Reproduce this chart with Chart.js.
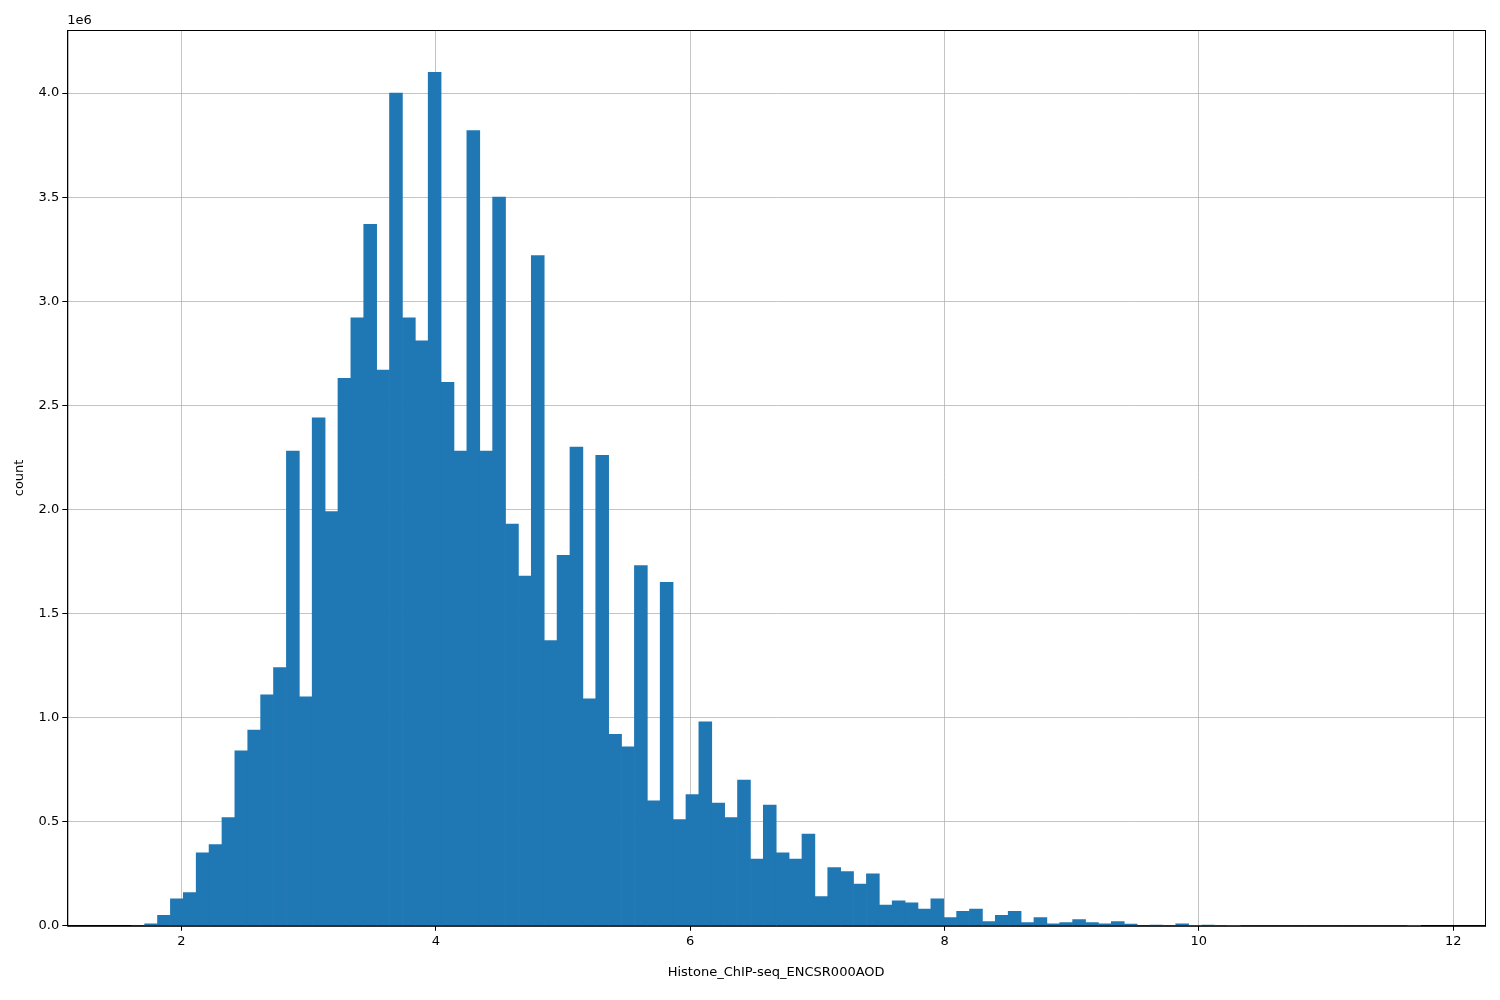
<!DOCTYPE html>
<html><head><meta charset="utf-8">
<script src="https://cdn.jsdelivr.net/npm/chart.js@4"></script>
<style>body{margin:0;background:#fff}</style></head>
<body><canvas id="c" width="1500" height="1000"></canvas>
<script>
const binStart = 1.609;
const binWidth = 0.10135;
const counts = [0,0.01,0.05,0.13,0.16,0.35,0.39,0.52,0.84,0.94,1.11,1.24,2.28,1.10,2.44,1.99,2.63,2.92,3.37,2.67,
4.0,2.92,2.81,4.1,2.61,2.28,3.82,2.28,3.50,1.93,1.68,3.22,1.37,1.78,2.30,1.09,2.26,0.92,0.86,1.73,
0.60,1.65,0.51,0.63,0.98,0.59,0.52,0.70,0.32,0.58,0.35,0.32,0.44,0.14,0.28,0.26,0.20,0.25,0.10,0.12,
0.11,0.08,0.13,0.04,0.07,0.08,0.02,0.05,0.07,0.015,0.04,0.01,0.015,0.03,0.015,0.01,0.02,0.008,0,0.003,
0.002,0.01,0.001,0.003,0.002,0.001,0,0,0,0,0,0,0,0,0,0,0,0,0,0.0005];
const xTicks = [2,4,6,8,10,12];
const yTicks = [0,0.5,1.0,1.5,2.0,2.5,3.0,3.5,4.0];
const xLabel = "Histone_ChIP-seq_ENCSR000AOD";
const yLabel = "count";
const data = counts.map((v,i)=>({x: binStart + binWidth*(i+0.5), y: v*1e6}));
const font = {family:"DejaVu Sans", size:13};
const grid = {color:'rgba(176,176,176,0.75)', lineWidth:1, drawTicks:true, tickLength:5, tickColor:'#000', offset:false};
new Chart(document.getElementById('c'), {
  type:'bar',
  data:{datasets:[{data, backgroundColor:'#1f77b4', barPercentage:1, categoryPercentage:1, borderWidth:0}]},
  options:{
    responsive:false, animation:false,
    layout:{padding:{top:30,right:15,left:8,bottom:16}},
    plugins:{legend:{display:false}, tooltip:{enabled:false}},
    scales:{
      x:{type:'linear', min:1.102, max:12.25, offset:false, z:1, grid,
        border:{color:'#000'},
        afterBuildTicks:s=>{s.ticks=xTicks.map(v=>({value:v}));},
        ticks:{font, color:'#000', callback:v=>String(v)},
        title:{display:true, text:xLabel, font, color:'#000', padding:{top:12}}},
      y:{min:0, max:4.303e6, z:1, grid,
        border:{color:'#000'},
        afterBuildTicks:s=>{s.ticks=yTicks.map(v=>({value:v*1e6}));},
        ticks:{font, color:'#000', callback:v=>(v/1e6).toFixed(1)},
        title:{display:true, text:yLabel, font, color:'#000', padding:{bottom:8}}}
    }
  },
  plugins:[{id:'off',afterDraw(c){const x=c.ctx;x.save();x.font='13px DejaVu Sans';x.fillStyle='#000';x.textBaseline='bottom';x.fillText('1e6',c.chartArea.left,c.chartArea.top-3);
    x.strokeStyle='#000';x.lineWidth=1;const a=c.chartArea;x.strokeRect(a.left+0.5,a.top+0.5,a.right-a.left,a.bottom-a.top);x.restore();}}]
});
</script></body></html>
